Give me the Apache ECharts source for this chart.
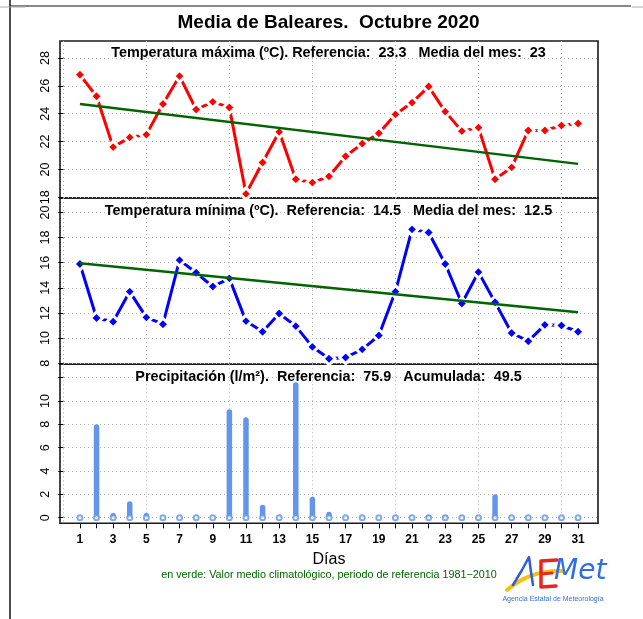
<!DOCTYPE html>
<html>
<head>
<meta charset="utf-8">
<script src="https://cdn.jsdelivr.net/npm/echarts@6/dist/echarts.min.js"></script>
<style>
html, body { margin: 0; padding: 0; background: #fff; }
#chart { width: 643px; height: 619px; }
</style>
</head>
<body>
<div id="chart"></div>
<script>
// datos
var days = [1, 2, 3, 4, 5, 6, 7, 8, 9, 10, 11, 12, 13, 14, 15, 16, 17, 18, 19, 20, 21, 22, 23, 24, 25, 26, 27, 28, 29, 30, 31];
var tmax = [26.8, 25.25, 21.6, 22.3, 22.5, 24.7, 26.7, 24.3, 24.85, 24.45, 18.25, 20.5, 22.7, 19.3, 19.05, 19.5, 20.95, 21.85, 22.6, 23.95, 24.8, 25.95, 24.15, 22.75, 23.0, 19.3, 20.15, 22.8, 22.8, 23.15, 23.3];
var tmin = [15.9, 11.6, 11.3, 13.7, 11.65, 11.1, 16.2, 15.2, 14.1, 14.75, 11.35, 10.5, 11.95, 10.95, 9.3, 8.35, 8.45, 9.1, 10.2, 13.7, 18.65, 18.4, 15.9, 12.75, 15.25, 12.85, 10.4, 9.75, 11.05, 11.0, 10.5];
var precip = [0, 8.0, 0.4, 1.4, 0.4, 0, 0, 0, 0, 9.3, 8.6, 1.1, 0, 11.6, 1.8, 0.5, 0, 0, 0, 0, 0, 0.2, 0.2, 0, 0, 2.0, 0, 0, 0, 0, 0];
// valor medio climatologico (linea verde)
var climDays = [1, 31];
var climMax = [24.7, 20.4];
var climMin = [15.95, 12.05];
// ejes
var xLabels = [1, 3, 5, 7, 9, 11, 13, 15, 17, 19, 21, 23, 25, 27, 29, 31];
var xGrid = [0, 5, 10, 15, 20, 25, 30];
var tmaxTicks = [18, 20, 22, 24, 26, 28];
var tminTicks = [8, 10, 12, 14, 16, 18, 20];
var precipTicks = [0, 2, 4, 6, 8, 10, 12];
var precipLabels = [0, 2, 4, 6, 8, 10];

var FONT = "'Liberation Sans', Arial, Helvetica, sans-serif";
var X0 = -0.2, X1 = 32.2;

var chart = echarts.init(document.getElementById('chart'));

function pairs(xs, ys) {
  return xs.map(function (x, i) { return [x, ys[i]]; });
}

function gridXAxis(idx) {
  return {
    type: 'value', gridIndex: idx, min: X0, max: X1,
    axisLine: { show: false },
    axisTick: { show: false, customValues: xGrid },
    axisLabel: { show: false },
    splitLine: { show: true, lineStyle: { color: '#b4b4b4', type: [1, 3], width: 1 } }
  };
}

function yAx(idx, min, max, ticks, labels) {
  return {
    type: 'value', gridIndex: idx, min: min, max: max,
    axisLine: { show: false },
    axisTick: { show: true, length: 5, customValues: ticks, lineStyle: { color: '#000', width: 1 } },
    axisLabel: { show: true, customValues: labels, rotate: 90, margin: 8, fontSize: 12.5, color: '#000', fontFamily: FONT },
    splitLine: { show: true, lineStyle: { color: '#b4b4b4', type: [1, 3], width: 1 } }
  };
}

var gridStyle = { left: 60, width: 538, show: true, borderColor: '#1a1a1a', borderWidth: 1.6, backgroundColor: 'transparent' };

chart.setOption({
  animation: false,
  backgroundColor: '#fff',
  grid: [
    Object.assign({ top: 41, height: 157 }, gridStyle),
    Object.assign({ top: 198, height: 166.3 }, gridStyle),
    Object.assign({ top: 364.3, height: 159 }, gridStyle)
  ],
  xAxis: [
    gridXAxis(0), gridXAxis(1), gridXAxis(2),
    {
      type: 'value', gridIndex: 2, min: X0, max: X1, position: 'bottom',
      axisLine: { show: false },
      axisTick: { show: true, length: 5, customValues: days, lineStyle: { color: '#000', width: 1 } },
      axisLabel: { show: true, customValues: xLabels, margin: 10, fontSize: 12, fontWeight: 'bold', color: '#000', fontFamily: FONT },
      splitLine: { show: false }
    }
  ],
  yAxis: [
    yAx(0, 17.95, 29.22, tmaxTicks, tmaxTicks),
    yAx(1, 7.91, 21.15, tminTicks, tminTicks),
    yAx(2, -0.48, 13.14, precipTicks, precipLabels)
  ],
  series: [
    {
      name: 'Tmax', type: 'line', xAxisIndex: 0, yAxisIndex: 0, clip: false, z: 3,
      data: pairs(days, tmax),
      lineStyle: { color: '#ff0000', width: 3 },
      symbol: 'diamond', symbolSize: 12,
      itemStyle: { color: '#ff0000', borderColor: '#fff', borderWidth: 3 }
    },
    {
      name: 'Clim Tmax', type: 'line', xAxisIndex: 0, yAxisIndex: 0, z: 4,
      data: pairs(climDays, climMax), showSymbol: false,
      lineStyle: { color: '#006400', width: 2.5 }
    },
    {
      name: 'Tmin', type: 'line', xAxisIndex: 1, yAxisIndex: 1, clip: false, z: 3,
      data: pairs(days, tmin),
      lineStyle: { color: '#0000ff', width: 3 },
      symbol: 'diamond', symbolSize: 12,
      itemStyle: { color: '#0000ff', borderColor: '#fff', borderWidth: 3 }
    },
    {
      name: 'Clim Tmin', type: 'line', xAxisIndex: 1, yAxisIndex: 1, z: 4,
      data: pairs(climDays, climMin), showSymbol: false,
      lineStyle: { color: '#006400', width: 2.5 }
    },
    {
      name: 'Precip', type: 'bar', xAxisIndex: 2, yAxisIndex: 2, barWidth: 5.5,
      data: pairs(days, precip),
      itemStyle: { color: '#6495ed', borderRadius: 2.75 }
    },
    {
      name: 'Precip0', type: 'scatter', xAxisIndex: 2, yAxisIndex: 2, z: 5,
      data: days.map(function (d) { return [d, 0]; }),
      symbol: 'emptyCircle', symbolSize: 5,
      itemStyle: { color: '#6495ed', borderWidth: 1.5 }
    }
  ],
  graphic: [
    // bordes del recorte
    { type: 'line', shape: { x1: 10, y1: 0, x2: 10, y2: 619 }, style: { stroke: '#111', lineWidth: 1.5 } },
    { type: 'line', shape: { x1: 10, y1: 6, x2: 631, y2: 6 }, style: { stroke: '#111', lineWidth: 1.2 } },
    { type: 'line', shape: { x1: 0, y1: 7, x2: 25, y2: 7 }, style: { stroke: '#aaa', lineWidth: 1 } },
    { type: 'line', shape: { x1: 632, y1: 7, x2: 643, y2: 7 }, style: { stroke: '#aaa', lineWidth: 1 } },
    // titulos
    { type: 'text', x: 328.5, y: 23, style: { text: 'Media de Baleares.  Octubre 2020', font: 'bold 19px ' + FONT, fill: '#000', align: 'center', verticalAlign: 'middle' } },
    { type: 'text', x: 328.5, y: 53, z: 10, style: { text: 'Temperatura máxima (ºC). Referencia:  23.3   Media del mes:  23', font: 'bold 14.4px ' + FONT, fill: '#000', align: 'center', verticalAlign: 'middle' } },
    { type: 'text', x: 328.5, y: 211, z: 10, style: { text: 'Temperatura mínima (ºC).  Referencia:  14.5   Media del mes:  12.5', font: 'bold 14.4px ' + FONT, fill: '#000', align: 'center', verticalAlign: 'middle' } },
    { type: 'text', x: 328.5, y: 377, z: 10, style: { text: 'Precipitación (l/m²).  Referencia:  75.9   Acumulada:  49.5', font: 'bold 14.4px ' + FONT, fill: '#000', align: 'center', verticalAlign: 'middle' } },
    { type: 'text', x: 329, y: 560, style: { text: 'Días', font: '16px ' + FONT, fill: '#000', align: 'center', verticalAlign: 'middle' } },
    { type: 'text', x: 329, y: 575, style: { text: 'en verde: Valor medio climatológico, periodo de referencia 1981\u22122010', font: '10.8px ' + FONT, fill: '#006400', align: 'center', verticalAlign: 'middle' } },
    // logo AEMET
    { type: 'bezierCurve', shape: { x1: 507, y1: 590, x2: 562, y2: 571, cpx1: 530, cpy1: 570 }, style: { stroke: '#f4c20d', lineWidth: 4, fill: null, lineCap: 'round' } },
    { type: 'polyline', shape: { points: [[513, 585], [522, 570], [529, 557], [531, 572], [533, 585]] }, style: { stroke: '#2f5fd0', lineWidth: 2.5, fill: null, lineJoin: 'round', lineCap: 'round' } },
    { type: 'polyline', shape: { points: [[557, 560], [541, 561], [541, 587], [556, 586]] }, style: { stroke: '#e8261e', lineWidth: 3.5, fill: null, lineJoin: 'round', lineCap: 'round' } },
    { type: 'line', shape: { x1: 541, y1: 574, x2: 552, y2: 573 }, style: { stroke: '#e8261e', lineWidth: 3, lineCap: 'round' } },
    { type: 'text', x: 554, y: 586, style: { text: 'Met', font: 'italic 28px ' + "'DejaVu Sans', sans-serif", fill: '#2f6fe0', align: 'left', verticalAlign: 'bottom' } },
    { type: 'text', x: 553, y: 599, style: { text: 'Agencia Estatal de Meteorología', font: '7px ' + FONT, fill: '#3a6fd8', align: 'center', verticalAlign: 'middle' } }
  ]
});
</script>
</body>
</html>
